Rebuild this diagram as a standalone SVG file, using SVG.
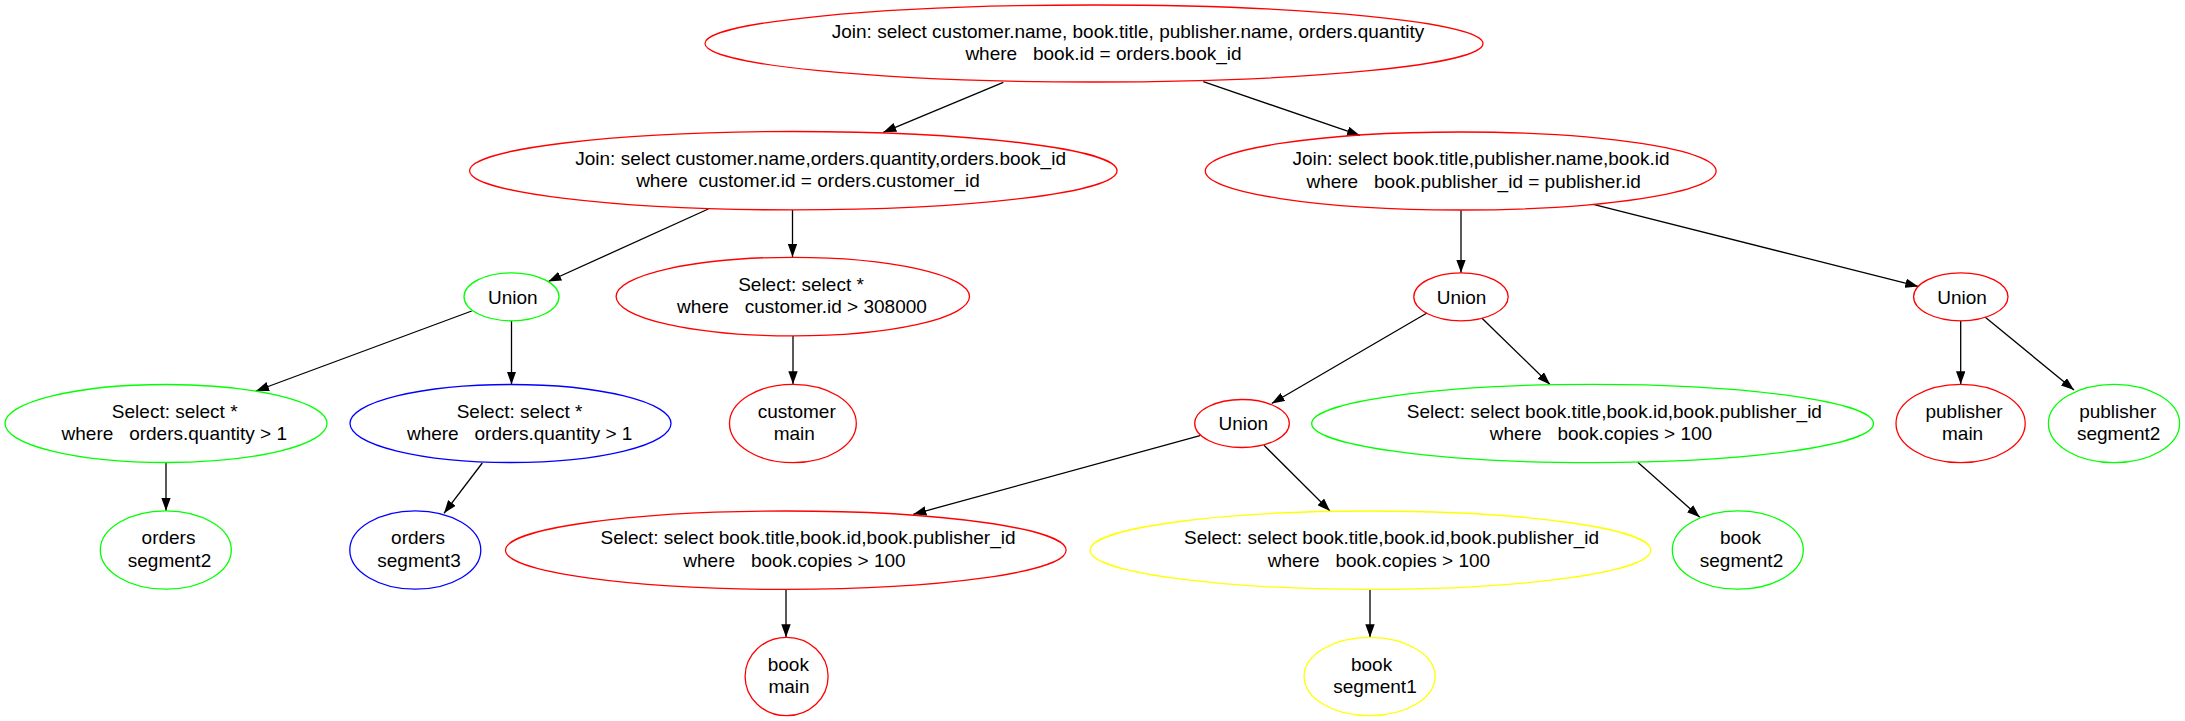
<svg xmlns="http://www.w3.org/2000/svg" width="2185" height="721" viewBox="0 0 2185 721">
<style>
ellipse{fill:none;stroke-width:1.3}
.r{stroke:#ff0000}.g{stroke:#00ff00}.b{stroke:#0000ff}.y{stroke:#ffff00}
text{font-family:"Liberation Sans",Arial,sans-serif;font-size:19px;text-anchor:middle;white-space:pre;fill:#000}
#edges line{stroke:#000;stroke-width:1.3;marker-end:url(#ah)}
</style>
<defs>
<marker id="ah" markerUnits="userSpaceOnUse" viewBox="0 0 13 9.4" markerWidth="13" markerHeight="9.4" refX="13" refY="4.7" orient="auto"><path d="M0,0L13,4.7L0,9.4z" fill="#000"/></marker>
</defs>
<rect width="2185" height="721" fill="#fff"/>
<g id="edges">
<line x1="1003.3" y1="82.3" x2="883.3" y2="132.3"/>
<line x1="1203.3" y1="81.7" x2="1360" y2="135.4"/>
<line x1="708.3" y1="209" x2="548.3" y2="281.5"/>
<line x1="792.5" y1="210" x2="792.5" y2="257"/>
<line x1="1461" y1="210.3" x2="1461" y2="272.8"/>
<line x1="1593.3" y1="204.3" x2="1918.3" y2="286.4"/>
<line x1="471.7" y1="311" x2="256" y2="391"/>
<line x1="511.5" y1="320.8" x2="511.5" y2="384.5"/>
<line x1="793" y1="336" x2="793" y2="384.2"/>
<line x1="1427" y1="313" x2="1271.7" y2="403.5"/>
<line x1="1482" y1="318.3" x2="1550" y2="384.5"/>
<line x1="1960.7" y1="320.8" x2="1960.7" y2="384.3"/>
<line x1="1985.3" y1="317.3" x2="2074" y2="390"/>
<line x1="166" y1="462.7" x2="166" y2="510.8"/>
<line x1="482.3" y1="463" x2="444" y2="513.3"/>
<line x1="1200" y1="435.7" x2="913.3" y2="514.3"/>
<line x1="1264" y1="445.3" x2="1330" y2="511"/>
<line x1="1637.8" y1="462.3" x2="1699.8" y2="517.3"/>
<line x1="786" y1="589.5" x2="786" y2="637.3"/>
<line x1="1370" y1="589.5" x2="1370" y2="637.3"/>
</g>
<g id="root"><ellipse class="r" cx="1094" cy="43.5" rx="389" ry="38.5"/><text x="1128" y="37.7">Join: select customer.name, book.title, publisher.name, orders.quantity</text><text x="1103.5" y="60.1">where   book.id = orders.book_id</text></g>
<g id="joinL"><ellipse class="r" cx="793.3" cy="170.7" rx="323.7" ry="39.2"/><text x="820.6" y="164.9">Join: select customer.name,orders.quantity,orders.book_id</text><text x="808" y="187.3">where  customer.id = orders.customer_id</text></g>
<g id="joinR"><ellipse class="r" cx="1460.7" cy="171" rx="255.4" ry="39"/><text x="1481" y="165.2">Join: select book.title,publisher.name,book.id</text><text x="1473.6" y="187.6">where   book.publisher_id = publisher.id</text></g>
<g id="unionG"><ellipse class="g" cx="511.5" cy="296.8" rx="47.5" ry="24"/><text x="512.8" y="303.5">Union</text></g>
<g id="selCust"><ellipse class="r" cx="792.8" cy="296.6" rx="176.7" ry="39.3"/><text x="801" y="290.8">Select: select *</text><text x="802" y="313.2">where   customer.id &gt; 308000</text></g>
<g id="unionR1"><ellipse class="r" cx="1461" cy="296.8" rx="47.2" ry="24"/><text x="1461.6" y="303.5">Union</text></g>
<g id="unionR2"><ellipse class="r" cx="1960.8" cy="296.8" rx="47.2" ry="24"/><text x="1962" y="303.5">Union</text></g>
<g id="selG"><ellipse class="g" cx="166" cy="423.5" rx="161" ry="39"/><text x="174.7" y="417.7">Select: select *</text><text x="174.3" y="440.1">where   orders.quantity &gt; 1</text></g>
<g id="selB"><ellipse class="b" cx="510.5" cy="423.5" rx="160.5" ry="39"/><text x="519.5" y="417.7">Select: select *</text><text x="519.7" y="440.1">where   orders.quantity &gt; 1</text></g>
<g id="custMain"><ellipse class="r" cx="792.9" cy="423.5" rx="63.4" ry="39.2"/><text x="796.7" y="417.7">customer</text><text x="794.3" y="440.1">main</text></g>
<g id="unionR3"><ellipse class="r" cx="1242" cy="423.5" rx="47.3" ry="24"/><text x="1243.3" y="430.2">Union</text></g>
<g id="selBookG"><ellipse class="g" cx="1592.6" cy="423.5" rx="280.9" ry="39.2"/><text x="1614.4" y="417.7">Select: select book.title,book.id,book.publisher_id</text><text x="1601" y="440.1">where   book.copies &gt; 100</text></g>
<g id="pubMain"><ellipse class="r" cx="1960.6" cy="423.5" rx="64.6" ry="39.2"/><text x="1964" y="417.7">publisher</text><text x="1962.6" y="440.1">main</text></g>
<g id="pubSeg2"><ellipse class="g" cx="2114" cy="423.5" rx="65.6" ry="39.2"/><text x="2117.7" y="417.7">publisher</text><text x="2118.7" y="440.1">segment2</text></g>
<g id="ordSeg2"><ellipse class="g" cx="165.8" cy="550" rx="65.5" ry="39.2"/><text x="168.5" y="544.2">orders</text><text x="169.5" y="566.6">segment2</text></g>
<g id="ordSeg3"><ellipse class="b" cx="415.3" cy="550" rx="65.5" ry="39.2"/><text x="418" y="544.2">orders</text><text x="419" y="566.6">segment3</text></g>
<g id="selBookR"><ellipse class="r" cx="785.8" cy="550.2" rx="280.3" ry="39.2"/><text x="808" y="544.4">Select: select book.title,book.id,book.publisher_id</text><text x="794.5" y="566.8">where   book.copies &gt; 100</text></g>
<g id="selBookY"><ellipse class="y" cx="1370.4" cy="550.2" rx="280.3" ry="39.2"/><text x="1391.6" y="544.4">Select: select book.title,book.id,book.publisher_id</text><text x="1379" y="566.8">where   book.copies &gt; 100</text></g>
<g id="bookSeg2"><ellipse class="g" cx="1737.8" cy="550" rx="65.5" ry="39.2"/><text x="1740.5" y="544.2">book</text><text x="1741.5" y="566.6">segment2</text></g>
<g id="bookMain"><ellipse class="r" cx="786.6" cy="676.5" rx="41.5" ry="39.2"/><text x="788.3" y="670.7">book</text><text x="789" y="693.1">main</text></g>
<g id="bookSeg1"><ellipse class="y" cx="1369.6" cy="676.5" rx="65.5" ry="39.2"/><text x="1371.6" y="670.7">book</text><text x="1375" y="693.1">segment1</text></g>
</svg>
